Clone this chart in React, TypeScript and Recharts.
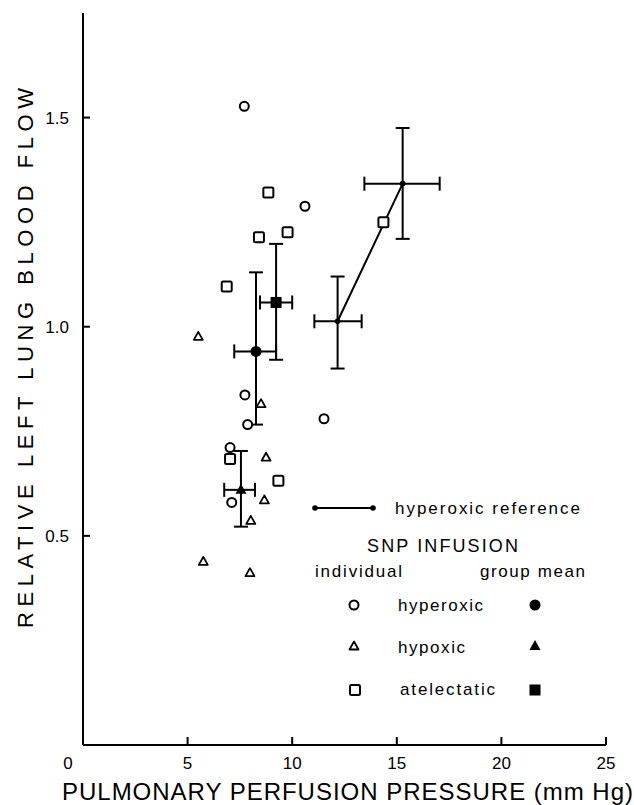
import React from 'react';
import { ScatterChart, Scatter, XAxis, YAxis, ErrorBar, Customized } from 'recharts';

// ---- data (x: pulmonary perfusion pressure mm Hg, y: relative left lung blood flow)
const xTicks = [0, 5, 10, 15, 20, 25];
const yTicks = [0.5, 1.0, 1.5];

const hyperoxicIndividual = [
  { x: 7.71, y: 1.527 },
  { x: 10.61, y: 1.288 },
  { x: 7.74, y: 0.837 },
  { x: 7.87, y: 0.766 },
  { x: 11.52, y: 0.78 },
  { x: 7.03, y: 0.711 },
  { x: 7.11, y: 0.58 },
];

const hypoxicIndividual = [
  { x: 5.51, y: 0.977 },
  { x: 8.51, y: 0.816 },
  { x: 8.75, y: 0.688 },
  { x: 8.67, y: 0.586 },
  { x: 8.02, y: 0.537 },
  { x: 5.75, y: 0.439 },
  { x: 7.98, y: 0.412 },
];

const atelectaticIndividual = [
  { x: 8.86, y: 1.321 },
  { x: 8.41, y: 1.214 },
  { x: 9.78, y: 1.226 },
  { x: 6.87, y: 1.096 },
  { x: 7.03, y: 0.684 },
  { x: 9.34, y: 0.632 },
  { x: 14.36, y: 1.25 },
];

// group means with error bounds: [mean, low, high]
const hyperoxicMean = [{ x: 8.27, xLow: 7.23, xHigh: 9.23, y: 0.941, yLow: 0.766, yHigh: 1.13 }];
const hypoxicMean = [{ x: 7.55, xLow: 6.75, xHigh: 8.22, y: 0.61, yLow: 0.522, yHigh: 0.703 }];
const atelectaticMean = [{ x: 9.23, xLow: 8.46, xHigh: 10.0, y: 1.058, yLow: 0.921, yHigh: 1.198 }];
const hyperoxicReference = [
  { x: 12.17, xLow: 11.06, xHigh: 13.32, y: 1.013, yLow: 0.9, yHigh: 1.12 },
  { x: 15.28, xLow: 13.45, xHigh: 17.05, y: 1.342, yLow: 1.21, yHigh: 1.475 },
];

const withErr = (arr: any[]) =>
  arr.map((d) => ({ ...d, ex: [d.x - d.xLow, d.xHigh - d.x], ey: [d.y - d.yLow, d.yHigh - d.y] }));

const FONT = '"Liberation Sans", Arial, sans-serif';

// ---- marker shapes
const HollowCircle = (p: any) => (
  <circle cx={p.cx} cy={p.cy} r={4.5} fill="#fff" stroke="#000" strokeWidth={2} />
);
const HollowTriangle = (p: any) => (
  <polygon
    points={`${p.cx},${p.cy - 4.5} ${p.cx - 4.5},${p.cy + 3.5} ${p.cx + 4.5},${p.cy + 3.5}`}
    fill="#fff"
    stroke="#000"
    strokeWidth={1.8}
    strokeLinejoin="round"
  />
);
const HollowSquare = (p: any) => (
  <rect x={p.cx - 5} y={p.cy - 5} width={10} height={10} rx={1.5} fill="#fff" stroke="#000" strokeWidth={2} />
);
const FilledCircle = (p: any) => <circle cx={p.cx} cy={p.cy} r={5.5} fill="#000" />;
const FilledTriangle = (p: any) => (
  <polygon points={`${p.cx},${p.cy - 6} ${p.cx - 5.5},${p.cy + 4} ${p.cx + 5.5},${p.cy + 4}`} fill="#000" />
);
const FilledSquare = (p: any) => <rect x={p.cx - 5.5} y={p.cy - 5.5} width={11} height={11} fill="#000" />;
const SmallDot = (p: any) => <circle cx={p.cx} cy={p.cy} r={2.8} fill="#000" />;

// ---- ticks (inward)
const XTick = (props: any) => {
  const { x, y, payload } = props;
  const v = payload.value;
  return (
    <g>
      {v !== 0 && <line x1={x} x2={x} y1={y} y2={y - 8} stroke="#000" strokeWidth={2} />}
      <text x={v === 0 ? x - 15 : x} y={y + 24} textAnchor="middle" fontFamily={FONT} fontSize={17} fill="#000">
        {v}
      </text>
    </g>
  );
};

const YTick = (props: any) => {
  const { x, y, payload } = props;
  return (
    <g>
      <line x1={x} x2={x + 7} y1={y} y2={y} stroke="#000" strokeWidth={2} />
      <text x={x - 14} y={y + 6} textAnchor="end" fontFamily={FONT} fontSize={17} fill="#000">
        {payload.value.toFixed(1)}
      </text>
    </g>
  );
};

const XTitle = () => (
  <text x={347.5} y={800} textAnchor="middle" fontFamily={FONT} fontSize={24} fill="#000" textLength={571} lengthAdjust="spacing">
    PULMONARY PERFUSION PRESSURE (mm Hg)
  </text>
);
const YTitle = () => (
  <text
    transform="rotate(-90)"
    x={-358}
    y={33}
    textAnchor="middle"
    fontFamily={FONT}
    fontSize={22}
    fill="#000"
    textLength={540}
    lengthAdjust="spacing"
  >
    RELATIVE LEFT LUNG BLOOD FLOW
  </text>
);

const LegendBlock = () => {
  const t = (x: number, y: number, s: string, len: number, size = 17, anchor: any = 'start') => (
    <text x={x} y={y} fontFamily={FONT} fontSize={size} fill="#000" textAnchor={anchor} textLength={len} lengthAdjust="spacing">
      {s}
    </text>
  );
  return (
    <g>
      <line x1={315} x2={373} y1={508} y2={508} stroke="#000" strokeWidth={2} />
      <SmallDot cx={315} cy={508} />
      <SmallDot cx={373} cy={508} />
      {t(395, 514, 'hyperoxic reference', 185)}
      {t(367, 552, 'SNP INFUSION', 151, 18)}
      {t(315, 577, 'individual', 87)}
      {t(480, 577, 'group mean', 105)}
      <HollowCircle cx={354} cy={605} />
      {t(398, 611, 'hyperoxic', 85)}
      <FilledCircle cx={535} cy={605} />
      <HollowTriangle cx={354} cy={646} />
      {t(398, 653, 'hypoxic', 67)}
      <FilledTriangle cx={535} cy={646} />
      <HollowSquare cx={355} cy={690} />
      {t(400, 695, 'atelectatic', 95)}
      <FilledSquare cx={535} cy={690} />
    </g>
  );
};

const bar = { stroke: '#000', strokeWidth: 2 };

export default function App() {
  return (
    <div style={{ position: 'absolute', left: 0, top: 0, background: '#fff' }}>
      <ScatterChart width={634} height={805} margin={{ top: 13, right: 28, left: 0, bottom: 0 }}>
        <XAxis
          type="number"
          dataKey="x"
          domain={[0, 25]}
          ticks={xTicks}
          height={60}
          tickSize={0}
          tickMargin={0}
          tickLine={false}
          tick={<XTick />}
          axisLine={{ stroke: '#000', strokeWidth: 2 }}
          allowDataOverflow
          interval={0}
          label={{ content: XTitle } as any}
        />
        <YAxis
          type="number"
          dataKey="y"
          domain={[0, 1.75]}
          ticks={yTicks}
          width={83}
          tickSize={0}
          tickMargin={0}
          tickLine={false}
          tick={<YTick />}
          axisLine={{ stroke: '#000', strokeWidth: 2 }}
          allowDataOverflow
          interval={0}
          label={{ content: YTitle } as any}
        />
        <Scatter data={withErr(hyperoxicReference)} shape={SmallDot} line={{ stroke: '#000', strokeWidth: 2 }} isAnimationActive={false}>
          <ErrorBar dataKey="ex" direction="x" width={7} {...bar} isAnimationActive={false} />
          <ErrorBar dataKey="ey" direction="y" width={7} {...bar} isAnimationActive={false} />
        </Scatter>
        <Scatter data={withErr(hyperoxicMean)} shape={FilledCircle} isAnimationActive={false}>
          <ErrorBar dataKey="ex" direction="x" width={7} {...bar} isAnimationActive={false} />
          <ErrorBar dataKey="ey" direction="y" width={7} {...bar} isAnimationActive={false} />
        </Scatter>
        <Scatter data={withErr(atelectaticMean)} shape={FilledSquare} isAnimationActive={false}>
          <ErrorBar dataKey="ex" direction="x" width={7} {...bar} isAnimationActive={false} />
          <ErrorBar dataKey="ey" direction="y" width={7} {...bar} isAnimationActive={false} />
        </Scatter>
        <Scatter data={withErr(hypoxicMean)} shape={FilledTriangle} isAnimationActive={false}>
          <ErrorBar dataKey="ex" direction="x" width={7} {...bar} isAnimationActive={false} />
          <ErrorBar dataKey="ey" direction="y" width={7} {...bar} isAnimationActive={false} />
        </Scatter>
        <Scatter data={hyperoxicIndividual} shape={HollowCircle} isAnimationActive={false} />
        <Scatter data={hypoxicIndividual} shape={HollowTriangle} isAnimationActive={false} />
        <Scatter data={atelectaticIndividual} shape={HollowSquare} isAnimationActive={false} />
        <Customized component={LegendBlock} />
      </ScatterChart>
    </div>
  );
}
